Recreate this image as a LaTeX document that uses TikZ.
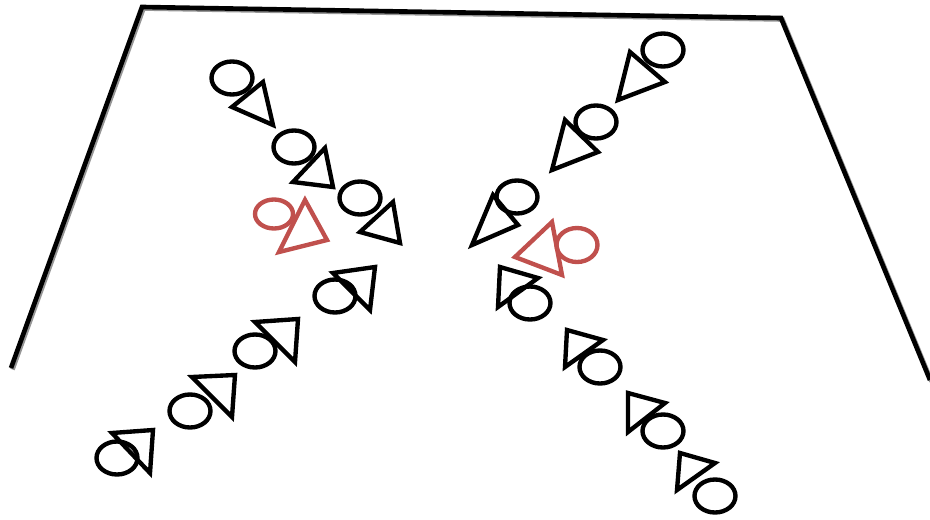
\documentclass[tikz,border=0pt]{standalone}
\usepackage{xcolor}
\usepackage{tikz}
\definecolor{agentred}{RGB}{192,80,77}
\definecolor{shadowgray}{RGB}{150,150,150}

\begin{document}
\begin{tikzpicture}[
  x=0.025cm, y=-0.025cm,
  wall/.style={draw=black, line width=3.3pt, line join=miter},
  wallshadow/.style={draw=shadowgray, line width=3.3pt},
  agent/.style={draw=black, line width=3.1pt},
  redagent/.style={draw=agentred, line width=3.1pt},
]
\useasboundingbox (0,0) rectangle (930,520);
\def\rx{20.5} % ellipse x radius
\def\ry{16.5} % ellipse y radius

% walls
\draw[wallshadow, shift={(1.5,1.5)}] (11,368) -- (142,7) -- (781,18) -- (930,380);
\draw[wall] (11,368) -- (142,7) -- (781,18) -- (930,380);

% upper-left stream (heading down-right)
\draw[agent] (232,78) ellipse [x radius=\rx, y radius=\ry];
\draw[agent] (232,107) -- (263,82) -- (273,125) -- cycle;
\draw[agent] (294,147) ellipse [x radius=\rx, y radius=\ry];
\draw[agent] (293,182) -- (325,148) -- (333,187) -- cycle;
\draw[agent] (360,198) ellipse [x radius=\rx, y radius=\ry];
\draw[agent] (360,232) -- (393,202) -- (400,243) -- cycle;

% upper-right stream (heading down-left)
\draw[agent] (663,50) ellipse [x radius=\rx, y radius=\ry];
\draw[agent] (630,52) -- (665,82) -- (618,100) -- cycle;
\draw[agent] (596,122) ellipse [x radius=\rx, y radius=\ry];
\draw[agent] (565,120) -- (598,152) -- (552,170) -- cycle;
\draw[agent] (517,197) ellipse [x radius=\rx, y radius=\ry];
\draw[agent] (493,195) -- (518,225) -- (472,245) -- cycle;

% lower-left stream (heading up-right)
\draw[agent] (117,458) ellipse [x radius=\rx, y radius=\ry];
\draw[agent] (112,433) -- (153,430) -- (150,473) -- cycle;
\draw[agent] (190,411) ellipse [x radius=\rx, y radius=\ry];
\draw[agent] (192,377) -- (235,375) -- (232,417) -- cycle;
\draw[agent] (255,351) ellipse [x radius=\rx, y radius=\ry];
\draw[agent] (255,322) -- (298,319) -- (295,362) -- cycle;
\draw[agent] (335,296) ellipse [x radius=\rx, y radius=\ry];
\draw[agent] (333,273) -- (375,267) -- (370,310) -- cycle;

% lower-right stream (heading up-left)
\draw[agent] (530,303) ellipse [x radius=\rx, y radius=\ry];
\draw[agent] (500,267) -- (538,278) -- (498,307) -- cycle;
\draw[agent] (600,367) ellipse [x radius=\rx, y radius=\ry];
\draw[agent] (567,330) -- (603,340) -- (565,367) -- cycle;
\draw[agent] (663,431) ellipse [x radius=\rx, y radius=\ry];
\draw[agent] (628,393) -- (665,403) -- (628,432) -- cycle;
\draw[agent] (715,496) ellipse [x radius=\rx, y radius=\ry];
\draw[agent] (680,453) -- (715,463) -- (677,490) -- cycle;

% red agents
\draw[redagent] (274,214) ellipse [x radius=19, y radius=14.5];
\draw[redagent] (305,200) -- (327,240) -- (279,252) -- cycle;
\draw[redagent] (577,245) ellipse [x radius=\rx, y radius=17];
\draw[redagent] (552,222) -- (515,257) -- (562,275) -- cycle;
\end{tikzpicture}
\end{document}
